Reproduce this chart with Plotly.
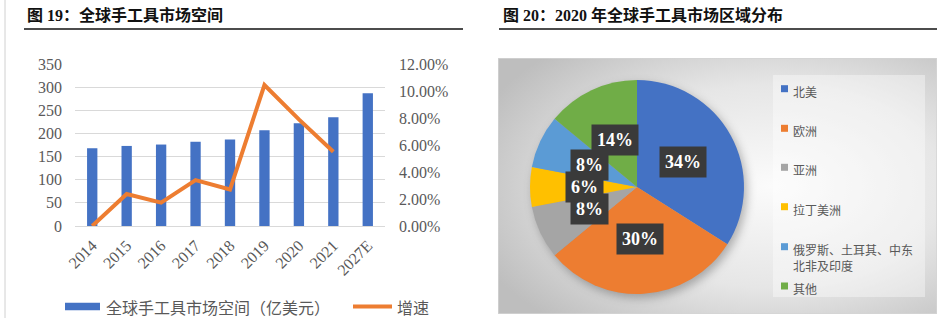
import base64
import math
import plotly.graph_objects as go

W, H = 948, 327

# ---------------- data ----------------
years = ["2014", "2015", "2016", "2017", "2018", "2019", "2020", "2021", "2027E"]
market_size = [168, 173, 176, 182, 187, 207, 222, 235, 287]          # 亿美元
growth = [0.0, 0.0237, 0.0173, 0.034, 0.027, 0.1044, 0.079, 0.055, None]

regions = ["北美", "欧洲", "亚洲", "拉丁美洲", "俄罗斯、土耳其、中东北非及印度", "其他"]
shares = [34, 30, 8, 6, 8, 14]
region_colors = ["#4472C4", "#ED7D31", "#A5A5A5", "#FFC000", "#5B9BD5", "#70AD47"]

title_left = "图 19：全球手工具市场空间"
title_right = "图 20：2020 年全球手工具市场区域分布"
bar_name = "全球手工具市场空间（亿美元）"
line_name = "增速"
bar_color = "#4472C4"
line_color = "#ED7D31"


def px(x):
    return x / W


def py(y):
    return 1 - y / H


SERIF = "Liberation Serif, Noto Sans CJK SC, serif"
CJK = "Noto Sans CJK SC, sans-serif"
GRAY = "#595959"

fig = go.Figure()

fig.add_trace(go.Bar(
    x=years, y=market_size, name=bar_name,
    marker=dict(color=bar_color, line=dict(width=0)),
    width=0.3, xaxis="x", yaxis="y", showlegend=False,
))
fig.add_trace(go.Scatter(
    x=years, y=growth, name=line_name, mode="lines",
    line=dict(color=line_color, width=4),
    xaxis="x", yaxis="y2", connectgaps=False, showlegend=False,
))

# pie
pie_dom_x = [px(530), px(744)]
pie_dom_y = [py(294), py(80)]
fig.add_trace(go.Pie(
    labels=regions, values=shares, sort=False, direction="clockwise", rotation=0,
    marker=dict(colors=region_colors, line=dict(width=0)),
    textinfo="none", showlegend=False,
    domain=dict(x=pie_dom_x, y=pie_dom_y),
))

# -------------- background svg for right panel -------------
bx0, by0, bx1, by1 = 498, 58, 937, 314
bw, bh = bx1 - bx0, by1 - by0
cx_px = (530 + 744) / 2
cy_px = (80 + 294) / 2
r_px = 107
svg = f'''<svg xmlns="http://www.w3.org/2000/svg" width="{bw}" height="{bh}" viewBox="0 0 {bw} {bh}" preserveAspectRatio="none">
<defs>
<radialGradient id="g" cx="0.62" cy="0.5" r="0.72">
<stop offset="0" stop-color="#fbfbfb"/>
<stop offset="0.55" stop-color="#e6e6e6"/>
<stop offset="1" stop-color="#bebebe"/>
</radialGradient>
<filter id="b" x="-20%" y="-20%" width="140%" height="140%"><feGaussianBlur stdDeviation="5"/></filter>
</defs>
<rect x="0" y="0" width="{bw}" height="{bh}" fill="url(#g)" stroke="#d4d4d4" stroke-width="1.5"/>
<rect x="{773-bx0}" y="{75-by0}" width="152" height="222" fill="#ffffff" fill-opacity="0.38"/>
<circle cx="{cx_px-bx0+3}" cy="{cy_px-by0+4}" r="{r_px}" fill="#000" fill-opacity="0.28" filter="url(#b)"/>
</svg>'''
src = "data:image/svg+xml;base64," + base64.b64encode(svg.encode("utf-8")).decode()

annotations = []
shapes = []

# titles
for t, x in [(title_left, 25), (title_right, 501)]:
    annotations.append(dict(
        text=f"<b>{t}</b>", x=px(x), y=py(15), xref="paper", yref="paper",
        xanchor="left", yanchor="middle", showarrow=False,
        font=dict(family=SERIF, size=16, color="#111111"),
    ))
for x0, x1 in [(24, 463), (499, 937)]:
    shapes.append(dict(type="line", xref="paper", yref="paper",
                       x0=px(x0), x1=px(x1), y0=py(29), y1=py(29),
                       line=dict(color="#111111", width=1.5)))

# left panel border line
shapes.append(dict(type="line", xref="paper", yref="paper",
                   x0=px(5), x1=px(5), y0=py(0), y1=py(318),
                   line=dict(color="#d0d0d0", width=1)))

# left chart legend
ly_leg = 306.5
shapes.append(dict(type="rect", xref="paper", yref="paper",
                   x0=px(65), x1=px(100), y0=py(ly_leg + 3.7), y1=py(ly_leg - 3.7),
                   fillcolor=bar_color, line=dict(width=0)))
annotations.append(dict(text=bar_name, x=px(104), y=py(ly_leg), xref="paper", yref="paper",
                        xanchor="left", yanchor="middle", showarrow=False,
                        font=dict(family=CJK, size=16, color=GRAY)))
shapes.append(dict(type="line", xref="paper", yref="paper",
                   x0=px(353), x1=px(392), y0=py(ly_leg), y1=py(ly_leg),
                   line=dict(color=line_color, width=4)))
annotations.append(dict(text=line_name, x=px(395), y=py(ly_leg), xref="paper", yref="paper",
                        xanchor="left", yanchor="middle", showarrow=False,
                        font=dict(family=CJK, size=16, color=GRAY)))

# pie percentage labels
total = sum(shares)
cum = 0
r_lab = 0.49 * r_px
for v in shares:
    mid = (cum + v / 2) / total * 2 * math.pi
    cum += v
    lx = cx_px + r_lab * math.sin(mid)
    ly = cy_px - r_lab * math.cos(mid)
    annotations.append(dict(
        text=f"<b>{v}%</b>", x=px(lx), y=py(ly), xref="paper", yref="paper",
        xanchor="center", yanchor="middle", showarrow=False,
        font=dict(family=SERIF, size=18, color="#ffffff"),
        bgcolor="#3a3a3a", borderpad=5,
    ))

# manual pie legend
leg_y = [88.7, 128.3, 167.3, 206.7, 246.7, 286]
for lab, col, yy in zip(regions, region_colors, leg_y):
    shapes.append(dict(type="rect", xref="paper", yref="paper",
                       x0=px(781), x1=px(788), y0=py(yy + 3.5), y1=py(yy - 3.5),
                       fillcolor=col, line=dict(width=0)))
    txt = lab if len(lab) <= 10 else lab[:10] + "<br>" + lab[10:]
    annotations.append(dict(
        text=txt, x=px(791), y=py(yy - 8), xref="paper", yref="paper",
        xanchor="left", yanchor="top", align="left", showarrow=False,
        font=dict(family=CJK, size=12, color=GRAY),
    ))

fig.update_layout(
    width=W, height=H,
    margin=dict(l=0, r=0, t=0, b=0, autoexpand=False),
    paper_bgcolor="white", plot_bgcolor="white",
    xaxis=dict(domain=[px(75), px(385)], anchor="y", tickangle=-45,
               tickfont=dict(family=SERIF, size=16, color=GRAY),
               showline=True, linecolor="#d9d9d9", linewidth=1, ticks="",
               ticklabelstandoff=3,
               showgrid=False, fixedrange=True, automargin=False),
    yaxis=dict(domain=[py(226), py(64)], range=[0, 350], dtick=50,
               tickfont=dict(family=SERIF, size=16, color=GRAY),
               gridcolor="#d9d9d9", gridwidth=1, zeroline=False,
               showline=False, ticks="", ticklabelstandoff=12, automargin=False),
    yaxis2=dict(overlaying="y", side="right", anchor="x", range=[0, 0.12], dtick=0.02,
                tickformat=".2%", showgrid=False, zeroline=False,
                tickfont=dict(family=SERIF, size=16, color=GRAY),
                ticks="", ticklabelstandoff=13, automargin=False),
    images=[dict(source=src, xref="paper", yref="paper", x=px(bx0), y=py(by0),
                 sizex=bw / W, sizey=bh / H, sizing="stretch",
                 xanchor="left", yanchor="top", layer="below")],
    shapes=shapes,
    annotations=annotations,
    showlegend=False,
)

fig.write_html("out.html")
